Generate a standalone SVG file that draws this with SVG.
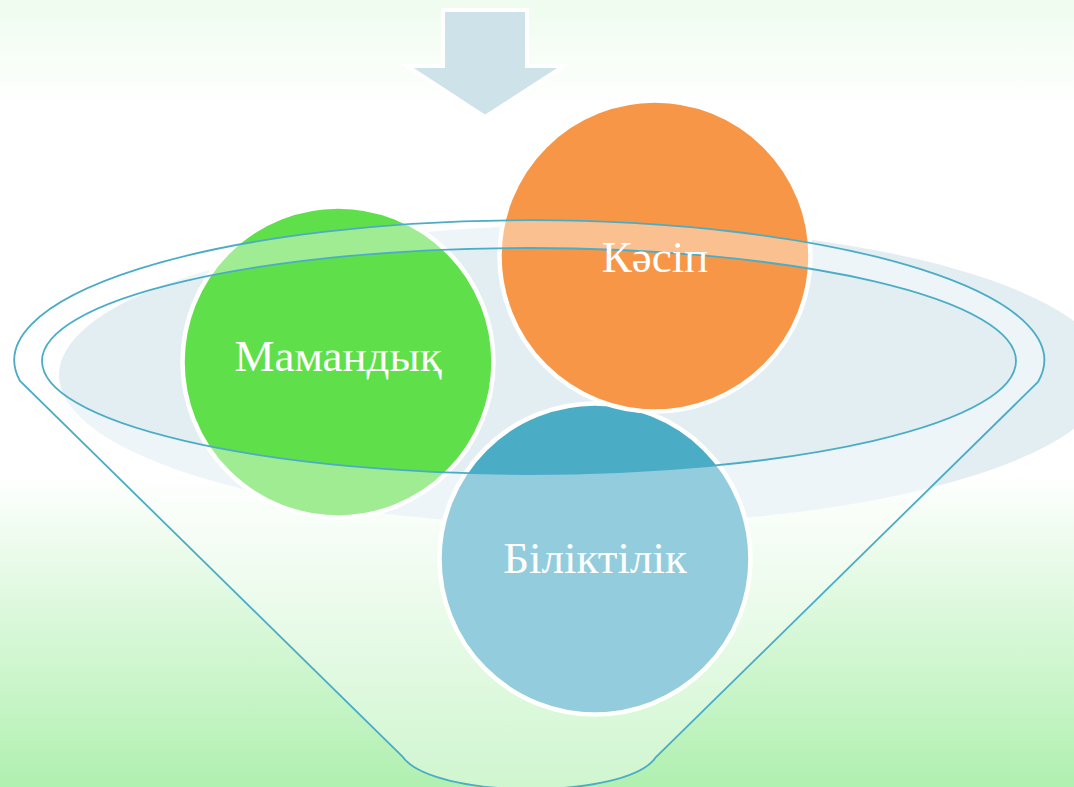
<svg xmlns="http://www.w3.org/2000/svg" width="1074" height="787" viewBox="0 0 1074 787">
  <defs>
    <linearGradient id="bg" x1="0" y1="0" x2="0" y2="1">
      <stop offset="0" stop-color="#effcef"/>
      <stop offset="0.14" stop-color="#ffffff"/>
      <stop offset="0.6" stop-color="#ffffff"/>
      <stop offset="1" stop-color="#b0f0b0"/>
    </linearGradient>
    <style>
      .circle { stroke: #ffffff; stroke-width: 4.5; }
      .label { font-family: "Liberation Serif", "Times New Roman", serif; font-size: 45px; fill: #ffffff; text-anchor: middle; }
      .rim { fill: none; stroke: #4bacc6; stroke-width: 1.8; }
    </style>
  </defs>
  <rect x="0" y="0" width="1074" height="787" fill="url(#bg)"/>
  <ellipse cx="584" cy="375" rx="525" ry="150" fill="#e3eef3"/>

  <g id="node-biliktilik">
    <circle class="circle" cx="595" cy="559" r="155.5" fill="#4bacc6"/>
  </g>
  <g id="node-mamandyk">
    <circle class="circle" cx="338" cy="362" r="155.5" fill="#5fe04a"/>
  </g>
  <g id="node-kasip">
    <circle class="circle" cx="655" cy="256" r="155.5" fill="#f79646"/>
  </g>

  <g id="funnel">
    <path fill="#ffffff" fill-opacity="0.4" fill-rule="evenodd"
      d="M 20 381 A 515 140 0 1 1 1038 382 L 656 757 C 628 800 432 800 402 756 Z
         M 42 361 A 487 113 0 1 0 1016 361 A 487 113 0 1 0 42 361 Z"/>
    <path class="rim" d="M 20 381 A 515 140 0 1 1 1038 382 L 656 757 C 628 800 432 800 402 756 Z"/>
    <ellipse class="rim" cx="529" cy="361" rx="487" ry="113"/>
  </g>

  <g id="arrow">
    <polygon points="443,10 527,10 527,66 564,66 485,117 407,66 443,66" fill="#cde2e9" stroke="#ffffff" stroke-width="4" stroke-linejoin="miter"/>
  </g>

  <g id="labels">
    <text class="label" x="338" y="371">Мамандық</text>
    <text class="label" x="655" y="272">Кәсіп</text>
    <text class="label" x="595" y="573">Біліктілік</text>
  </g>
</svg>
